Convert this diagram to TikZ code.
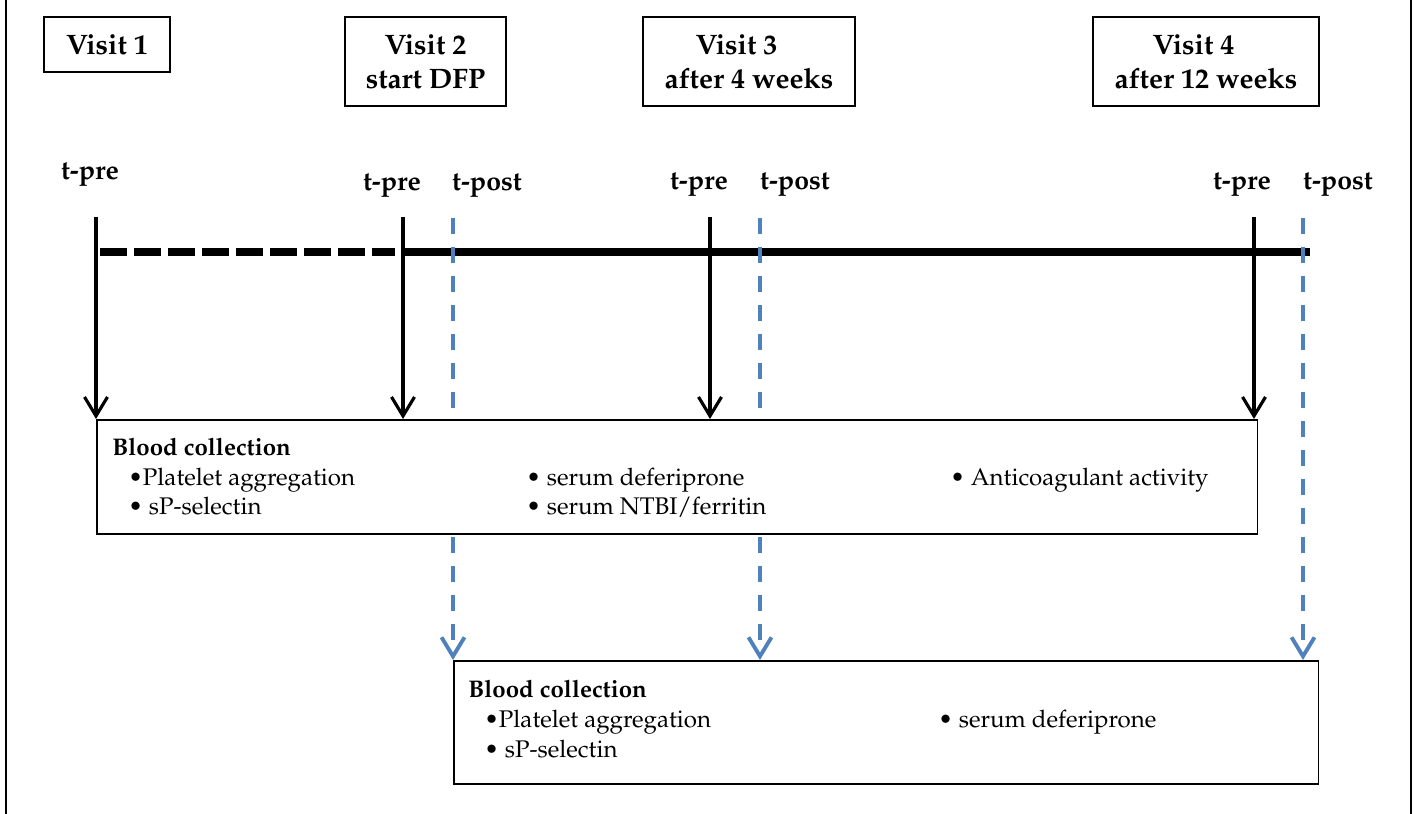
\documentclass[tikz,border=0pt]{standalone}
\usepackage[T1]{fontenc}
\usepackage{mathpazo}
\usepackage{xcolor}
\usepackage{tikz}
\usetikzlibrary{positioning,arrows.meta,calc}

\definecolor{postblue}{RGB}{79,129,189}

\begin{document}
\begin{tikzpicture}[x=0.02cm, y=-0.02cm, >={Straight Barb[length=0.38cm,width=0.46cm]}]

\tikzset{
  visitbox/.style={draw, line width=1pt, align=center, inner sep=0pt,
    font=\fontsize{16}{19.3}\selectfont\bfseries},
  tlabel/.style={anchor=base, inner sep=0pt, font=\fontsize{15.2}{18}\selectfont\bfseries},
  prearrow/.style={->, line width=1.8pt},
  postarrow/.style={->, postblue, line width=2.2pt, dash pattern=on 0.32cm off 0.26cm},
  bloodbox/.style={draw, line width=0.9pt, fill=white, inner sep=0pt, anchor=north west},
  itemtext/.style={anchor=base west, inner sep=0pt, font=\fontsize{13.7}{17}\selectfont},
  titletext/.style={itemtext, font=\fontsize{13.7}{17}\selectfont\bfseries}
}

\useasboundingbox (0,0) rectangle (1414,814);

% Frame
\draw[line width=0.8pt] (6,0) -- (6,814);
\draw[line width=0.8pt] (1411,0) -- (1411,814);

% Visit boxes
\foreach \n/\x/\y/\w/\h/\txt in {1/107/44.5/2.52/1.1/{Visit 1},
    2/425.5/61.5/3.22/1.78/{Visit 2\\start DFP},
    3/749/61.5/4.24/1.78/{Visit 3\hspace*{0.5cm}\\after 4 weeks},
    4/1206/61.5/4.52/1.78/{Visit 4\hspace*{0.5cm}\\after 12 weeks}} {
  \node[visitbox, minimum width=\w cm, minimum height=\h cm] (visit\n) at (\x,\y) {\txt};
}

% Sampling time labels
\node[tlabel] (tpre1) at (90,180) {t-pre};
\node[tlabel] (tpre2) at (392,191) {t-pre};
\node[tlabel] (tpost1) at (487,191) {t-post};
\node[tlabel] (tpre3) at (699,190) {t-pre};
\node[tlabel] (tpost2) at (795,190) {t-post};
\node[tlabel] (tpre4) at (1242,190) {t-pre};
\node[tlabel] (tpost3) at (1338,190) {t-post};

% Time line (run-in dashed, treatment solid)
\coordinate (run0) at (100,252);
\coordinate (run1) at (395,252);
\coordinate (dfp0) at (403,252);
\coordinate (dfp1) at (1310,252);
\draw[line width=4pt, dash pattern=on 0.54cm off 0.14cm] (run0) -- (run1);
\draw[line width=4pt] (dfp0) -- (dfp1);

% Lower blood collection (t-post)
\node[bloodbox, minimum width=17.3cm, minimum height=2.46cm] (blood2) at (453,660) {};

% t-post arrows
\foreach \x/\n in {453/1, 760/2, 1303/3} {
  \coordinate (post\n) at (\x,218);
  \draw[postarrow] (post\n) -- (post\n |- blood2.north);
}

% Upper blood collection (t-pre)
\node[bloodbox, minimum width=23.22cm, minimum height=2.28cm] (blood1) at (96,419) {};

% t-pre arrows
\foreach \x/\n in {96/1, 403/2, 710/3, 1254/4} {
  \coordinate (pre\n) at (\x,217);
  \draw[prearrow] (pre\n) -- (pre\n |- blood1.north);
}

% Texts, upper box
\node[titletext] (bc1title) at (112,455) {Blood collection};
\node[itemtext] (bc1plt) at (128,485) {\textbullet Platelet aggregation};
\node[itemtext] (bc1sel) at (128,514) {\textbullet{} sP-selectin};
\node[itemtext] (bc1dfp) at (526,485) {\textbullet{} serum deferiprone};
\node[itemtext] (bc1fer) at (526,514) {\textbullet{} serum NTBI/ferritin};
\node[itemtext] (bc1anti) at (950,485) {\textbullet{} Anticoagulant activity};

% Texts, lower box
\node[titletext] (bc2title) at (468,697) {Blood collection};
\node[itemtext] (bc2plt) at (484,727) {\textbullet Platelet aggregation};
\node[itemtext] (bc2sel) at (484,757) {\textbullet{} sP-selectin};
\node[itemtext] (bc2dfp) at (938,727) {\textbullet{} serum deferiprone};

\end{tikzpicture}
\end{document}
